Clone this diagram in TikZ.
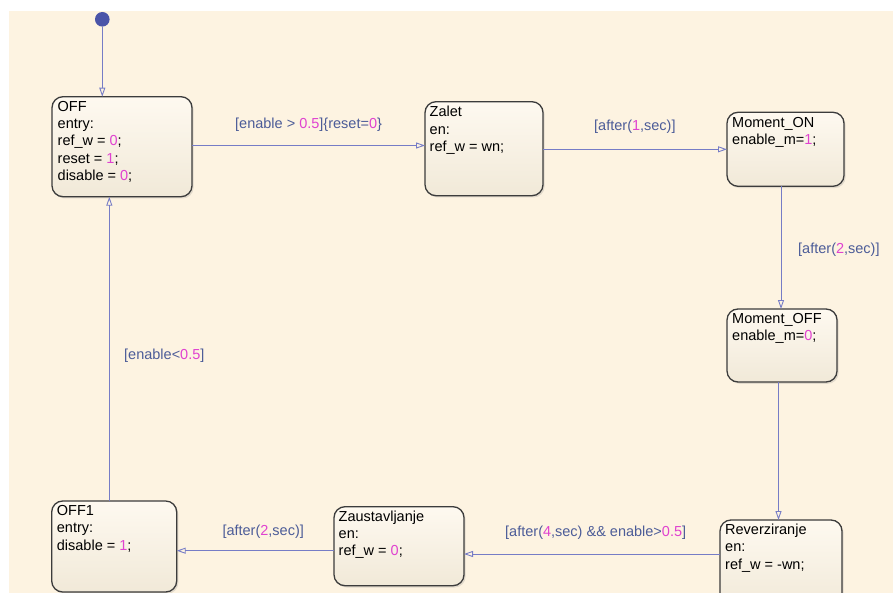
\documentclass[tikz,border=0pt]{standalone}
\usepackage{fontspec}
\setmainfont{Liberation Sans}
\usetikzlibrary{arrows.meta,shadows,calc}

\definecolor{canvasbg}{RGB}{253,243,225}
\definecolor{statetop}{RGB}{254,249,240}
\definecolor{statebot}{RGB}{241,233,216}
\definecolor{stateedge}{RGB}{60,60,60}
\definecolor{transline}{RGB}{118,124,198}
\definecolor{labeltxt}{RGB}{76,92,152}
\definecolor{numtxt}{RGB}{224,66,208}
\definecolor{initdot}{RGB}{74,84,168}

\newcommand{\nm}[1]{\textcolor{numtxt}{#1}}

\begin{document}
\begin{tikzpicture}[x=1pt,y=-1pt,
  statebox/.style={draw=stateedge, line width=1.3pt, rounded corners=11pt,
    top color=statetop, bottom color=statebot, anchor=north west,
    inner sep=0pt, outer sep=0pt,
    drop shadow={shadow xshift=1.6pt, shadow yshift=-1.8pt, opacity=0.22}},
  statetext/.style={anchor=north west, inner sep=0pt, align=left,
    font=\fontsize{14.5}{17.2}\selectfont, text=black},
  trans/.style={draw=transline, line width=0.9pt,
    -{Triangle[open, length=9pt, width=6pt, line width=0.9pt]}},
  guard/.style={anchor=base west, inner sep=0pt,
    font=\fontsize{14.5}{17.2}\selectfont, text=labeltxt}]

\useasboundingbox (0,0) rectangle (893,593);
\clip (0,0) rectangle (893,593);
\fill[white] (0,0) rectangle (893,593);
\fill[canvasbg] (9,11) rectangle (893,593);

% states
\node[statebox, minimum width=140pt, minimum height=100pt] (off) at (52,96.7) {};
\node[statebox, minimum width=118pt, minimum height=94pt] (zalet) at (425,101.7) {};
\node[statebox, minimum width=117pt, minimum height=74pt] (mon) at (727,112.3) {};
\node[statebox, minimum width=110pt, minimum height=73pt] (moff) at (727,309) {};
\node[statebox, minimum width=122pt, minimum height=90pt] (rev) at (720,520) {};
\node[statebox, minimum width=130pt, minimum height=79pt] (zaus) at (334,506.7) {};
\node[statebox, minimum width=125pt, minimum height=91pt] (off1) at (51.7,501) {};

% state contents
\node[statetext] (offtxt) at ($(off.north west)+(5.5,2.5)$)
  {\strut OFF\\entry:\\ref\_w = \nm{0};\\reset = \nm{1};\\disable = \nm{0};};
\node[statetext] (zalettxt) at ($(zalet.north west)+(4.5,3)$)
  {\strut Zalet\\en:\\ref\_w = wn;};
\node[statetext] (montxt) at ($(mon.north west)+(5,2.5)$)
  {\strut Moment\_ON\\enable\_m=\nm{1};};
\node[statetext] (mofftxt) at ($(moff.north west)+(5,2.5)$)
  {\strut Moment\_OFF\\enable\_m=\nm{0};};
\node[statetext] (revtxt) at ($(rev.north west)+(5,2.5)$)
  {\strut Reverziranje\\en:\\ref\_w = -wn;};
\node[statetext] (zaustxt) at ($(zaus.north west)+(4.5,2.5)$)
  {\strut Zaustavljanje\\en:\\ref\_w = \nm{0};};
\node[statetext] (off1txt) at ($(off1.north west)+(5,2.5)$)
  {\strut OFF1\\entry:\\disable = \nm{1};};

% default transition
\node[circle, fill=initdot, minimum size=14.6pt, inner sep=0pt] (init) at (102.3,19.3) {};
\draw[trans] (init) -- (init |- off.north);

% transitions
\draw[trans] (off.east |- 0,145.5) -- (zalet.west |- 0,145.5);
\draw[trans] (zalet.east |- 0,149.3) -- (mon.west |- 0,149.3);
\draw[trans] (mon.south -| 781,0) -- (moff.north -| 781,0);
\draw[trans] (moff.south -| 778.5,0) -- (rev.north -| 778.5,0);
\draw[trans] (rev.west |- 0,554) -- (zaus.east |- 0,554);
\draw[trans] (zaus.west |- 0,550.7) -- (off1.east |- 0,550.7);
\draw[trans] (off1.north -| 109.3,0) -- (off.south -| 109.3,0);

% guards and actions
\node[guard] (g1) at (235,128.3) {[enable > \nm{0.5}]\{reset=\nm{0}\}};
\node[guard] (g2) at (594,131) {[after(\nm{1},sec)]};
\node[guard] (g3) at (798,254) {[after(\nm{2},sec)]};
\node[guard] (g4) at (505,536.5) {[after(\nm{4},sec) \&\& enable>\nm{0.5}]};
\node[guard] (g5) at (222.3,535) {[after(\nm{2},sec)]};
\node[guard] (g6) at (124,359) {[enable<\nm{0.5}]};
\end{tikzpicture}
\end{document}
